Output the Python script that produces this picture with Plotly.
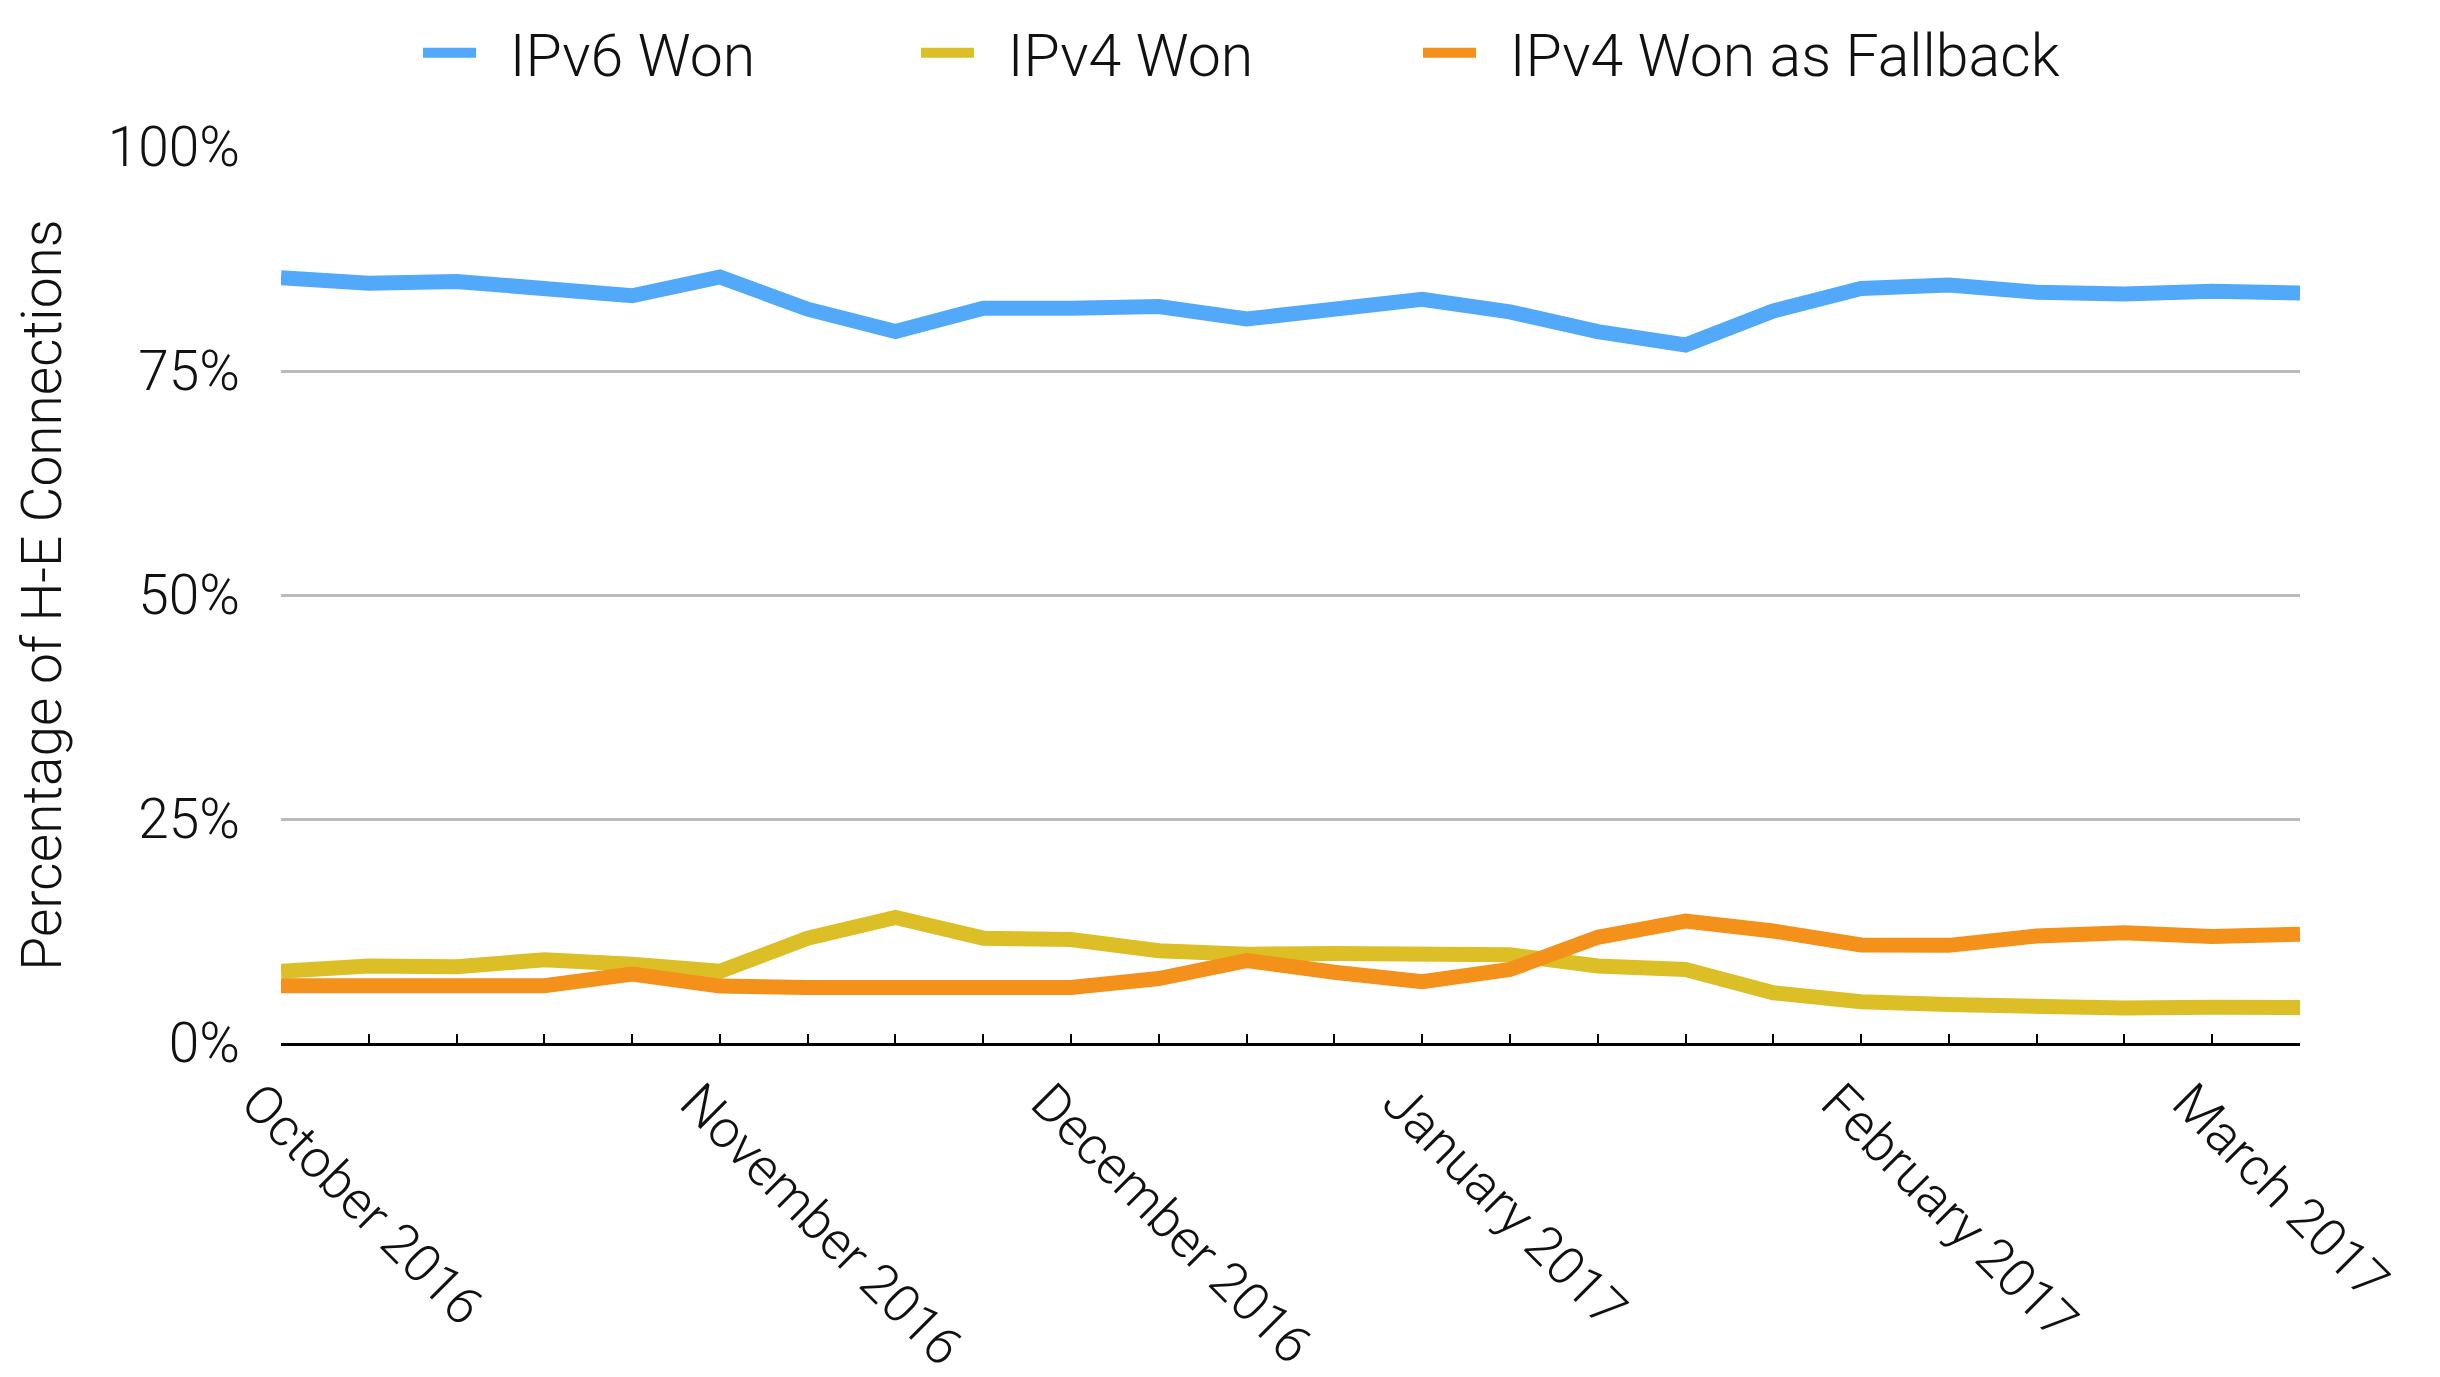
import plotly.graph_objects as go

weeks = list(range(24))
tick_labels = ["October 2016", "", "", "", "", "November 2016", "", "", "", "December 2016",
               "", "", "", "January 2017", "", "", "", "", "February 2017", "", "", "",
               "March 2017", ""]
y_tick_vals = [0, 25, 50, 75, 100]
y_tick_labels = ["0%", "25%", "50%", "75%", "100%"]

ipv6_won = [85.4, 84.8, 85.0, 84.2, 83.4, 85.5, 81.9, 79.4, 82.0, 82.0, 82.2, 80.8,
            81.7, 83.0, 81.6, 79.4, 77.9, 81.7, 84.2, 84.6, 83.8, 83.6, 83.9, 83.7]
ipv4_won = [8.0, 8.6, 8.5, 9.3, 8.8, 8.0, 11.7, 14.0, 11.7, 11.55, 10.3, 9.9,
            10.0, 9.97, 9.85, 8.6, 8.2, 5.6, 4.6, 4.3, 4.0, 3.9, 4.0, 3.95]
ipv4_fallback = [6.4, 6.4, 6.3, 6.4, 7.7, 6.35, 6.2, 6.3, 6.05, 6.2, 7.2, 9.2,
                 7.9, 6.85, 8.2, 11.8, 13.6, 12.5, 10.95, 10.9, 11.95, 12.3, 11.9, 12.15]

series_names = ["IPv6 Won", "IPv4 Won", "IPv4 Won as Fallback"]
series_values = [ipv6_won, ipv4_won, ipv4_fallback]
series_colors = ["#52A9F9", "#DCBF26", "#F3911B"]
legend_ids = ["legend", "legend2", "legend3"]

# page body has an 8px margin in the browser; compensate
OFF = 8
legend_x_px = [428 - 10 - OFF, 926 - 10 - OFF, 1428 - 10 - OFF]

FONT = "Roboto, Liberation Sans, sans-serif"
TXT = "#111111"
NBSP = "\u00a0"

fig = go.Figure()
for name, vals, col, lg in zip(series_names, series_values, series_colors, legend_ids):
    fig.add_trace(go.Scatter(x=weeks, y=vals, mode="lines", name=NBSP * 2 + name, legend=lg,
                             line=dict(color=col, width=15)))

def legend_cfg(xpx):
    return dict(orientation="h", x=xpx / 2440, xanchor="left", xref="container",
                y=1.0, yanchor="top", yref="container", itemwidth=53,
                bgcolor="rgba(0,0,0,0)", borderwidth=0,
                font=dict(family=FONT, size=59, color=TXT, weight=300))

fig.update_layout(
    width=2440, height=1377,
    paper_bgcolor="white", plot_bgcolor="white",
    margin=dict(l=281 - OFF, r=140 + OFF, t=147 - OFF, b=334 + OFF),
    font=dict(family=FONT, size=55, color=TXT, weight=300),
    legend=legend_cfg(legend_x_px[0]),
    legend2=legend_cfg(legend_x_px[1]),
    legend3=legend_cfg(legend_x_px[2]),
    showlegend=True,
)

fig.update_xaxes(
    range=[0, 23], tickmode="array", tickvals=weeks, ticktext=tick_labels,
    tickangle=45, showgrid=False, zeroline=False, automargin=False,
    showline=True, linecolor="black", linewidth=3,
    ticks="inside", ticklen=9, tickwidth=2, tickcolor="black",
    ticklabelshift=-24, ticklabelstandoff=4,
    tickfont=dict(family=FONT, size=53, color=TXT, weight=300),
)
fig.update_yaxes(
    range=[0, 100], tickmode="array", tickvals=y_tick_vals, ticktext=y_tick_labels,
    showgrid=True, gridcolor="#BBBBBB", gridwidth=3, zeroline=False, automargin=False,
    showline=False, ticks="", ticklabelstandoff=40,
    tickfont=dict(family=FONT, size=55, color=TXT, weight=300),
    title=dict(text="Percentage of H-E Connections", standoff=28,
               font=dict(family=FONT, size=55, color=TXT, weight=300)),
)

fig.write_html("out.html")
